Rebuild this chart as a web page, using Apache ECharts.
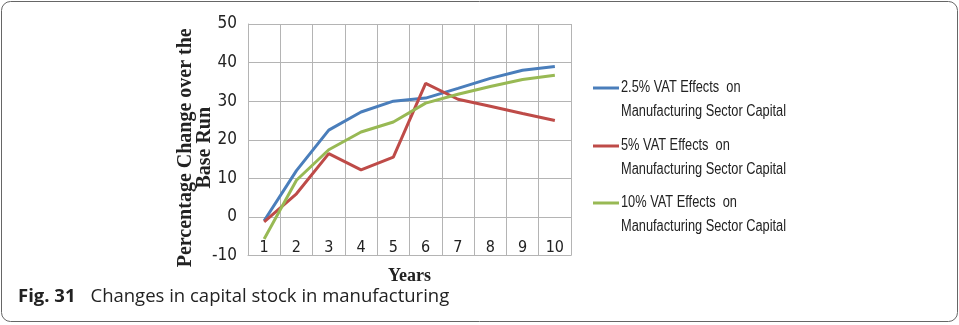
<!DOCTYPE html>
<html>
<head>
<meta charset="utf-8">
<script src="https://cdn.jsdelivr.net/npm/echarts@6/dist/echarts.min.js"></script>
<style>
  html, body { margin: 0; padding: 0; background: #fff; }
  #chart { width: 959px; height: 325px; }
</style>
</head>
<body>
<div id="chart"></div>
<script>
  // years on the x axis
  var years = ['1', '2', '3', '4', '5', '6', '7', '8', '9', '10'];
  // percentage change over the base run
  var vat25 = [-1, 12, 22.5, 27.2, 30, 30.8, 33.3, 35.9, 38, 39];
  var vat5 = [-1.3, 6, 16.4, 12.2, 15.5, 34.6, 30.5, 28.7, 26.8, 25];
  var vat10 = [-5.7, 9.5, 17.4, 22, 24.6, 29.5, 31.8, 33.8, 35.6, 36.7];
  var seriesNames = [
    '2.5% VAT Effects  on Manufacturing Sector Capital',
    '5% VAT Effects  on Manufacturing Sector Capital',
    '10% VAT Effects  on Manufacturing Sector Capital'
  ];
  // legend text is broken over two lines like in the original
  var legendLines = [
    ['2.5% VAT Effects  on', 'Manufacturing Sector Capital'],
    ['5% VAT Effects  on', 'Manufacturing Sector Capital'],
    ['10% VAT Effects  on', 'Manufacturing Sector Capital']
  ];
  var colors = ['#4a7ebb', '#be4b48', '#98b954'];

  var narrow = "'DejaVu Sans Condensed', 'Liberation Sans', sans-serif";
  var serif = "'Liberation Serif', 'DejaVu Serif', serif";
  var gridGrey = '#b4b4b4';

  var myChart = echarts.init(document.getElementById('chart'));

  // one legend per item (icon only), text is drawn next to it below
  var legendY = [88, 146, 203];
  var legends = seriesNames.map(function (name, i) {
    return {
      data: [name],
      left: 593,
      top: legendY[i] - 1.5,
      padding: 0,
      orient: 'vertical',
      icon: 'rect',
      itemWidth: 26,
      itemHeight: 3,
      selectedMode: false,
      formatter: function () { return ''; }
    };
  });

  var legendTexts = [];
  legendLines.forEach(function (lines, i) {
    lines.forEach(function (txt, j) {
      legendTexts.push({
        type: 'text',
        x: 621,
        y: legendY[i] + j * 24,
        scaleX: 0.8,
        silent: true,
        style: {
          text: txt,
          x: 0,
          y: 0,
          align: 'left',
          verticalAlign: 'middle',
          font: "16px 'Liberation Sans', sans-serif",
          fill: '#222'
        }
      });
    });
  });

  myChart.setOption({
    animation: false,
    color: colors,
    grid: { left: 248, right: 388, top: 24, bottom: 69.5 },
    legend: legends,
    xAxis: {
      type: 'category',
      data: years,
      boundaryGap: true,
      name: 'Years',
      nameLocation: 'middle',
      nameGap: 12,
      nameTextStyle: { fontFamily: serif, fontWeight: 'bold', fontSize: 18, color: '#222' },
      axisLine: { onZero: false, lineStyle: { color: gridGrey } },
      axisTick: { show: false },
      axisLabel: { inside: true, margin: 0, fontFamily: narrow, fontSize: 16, color: '#222' },
      splitLine: { show: true, lineStyle: { color: gridGrey } }
    },
    yAxis: {
      type: 'value',
      min: -10,
      max: 50,
      interval: 10,
      name: 'Percentage Change over the\nBase Run',
      nameLocation: 'middle',
      nameRotate: 90,
      nameGap: 34,
      nameMoveOverlap: false,
      nameTextStyle: {
        fontFamily: serif, fontWeight: 'bold', fontSize: 20, lineHeight: 19, color: '#222',
        padding: [0, 16, 0, 0]
      },
      axisLine: { show: true, lineStyle: { color: gridGrey } },
      axisTick: { show: false },
      axisLabel: { margin: 11, fontFamily: narrow, fontSize: 17, color: '#222' },
      splitLine: { show: true, lineStyle: { color: gridGrey } }
    },
    series: [
      { name: seriesNames[0], type: 'line', data: vat25, symbol: 'none', lineStyle: { width: 3 } },
      { name: seriesNames[1], type: 'line', data: vat5, symbol: 'none', lineStyle: { width: 3 } },
      { name: seriesNames[2], type: 'line', data: vat10, symbol: 'none', lineStyle: { width: 3 } }
    ],
    graphic: legendTexts.concat([
      {
        type: 'rect',
        shape: { x: 1.5, y: 1.5, width: 956, height: 320, r: 9 },
        style: { fill: 'none', stroke: '#666', lineWidth: 1 },
        silent: true
      },
      {
        type: 'text',
        x: 18,
        y: 297,
        silent: true,
        style: {
          text: '{b|Fig. 31}Changes in capital stock in manufacturing',
          x: 0,
          y: 0,
          verticalAlign: 'middle',
          font: "18.5px 'Open Sans', sans-serif",
          fill: '#222',
          rich: {
            b: {
              fontFamily: "'Open Sans', sans-serif", fontWeight: 'bold', fontSize: 18.5,
              fill: '#222', padding: [0, 15, 0, 0]
            }
          }
        }
      }
    ])
  });
</script>
</body>
</html>
